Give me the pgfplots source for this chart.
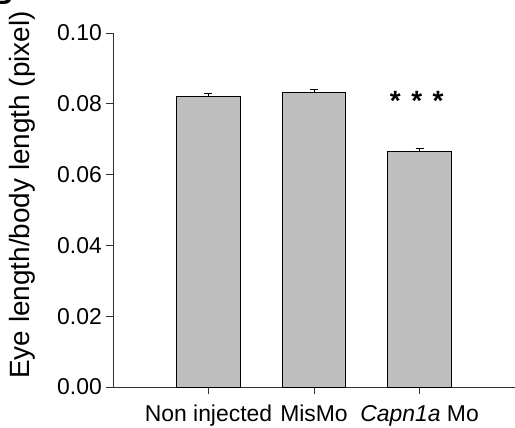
\documentclass[border=0pt]{standalone}
\usepackage{fontspec}
\setmainfont{Liberation Sans}
\usepackage{pgfplots}
\pgfplotsset{compat=1.18}
\definecolor{barg}{RGB}{190,190,190}
\definecolor{axg}{RGB}{50,50,50}
\begin{document}
\begin{tikzpicture}
\begin{axis}[
  at={(0,0)}, anchor=south west,
  scale only axis, width=402bp, height=354bp,
  xmin=-0.905, xmax=2.905, ymin=0, ymax=0.10,
  axis lines=left,
  axis line style={axg, line width=0.9bp, -},
  tick align=outside, major tick length=7bp,
  tick style={axg, line width=0.9bp},
  ytick={0,0.02,0.04,0.06,0.08,0.10},
  /pgf/number format/fixed, /pgf/number format/fixed zerofill,
  /pgf/number format/precision=2, /pgf/number format/assume math mode=true,
  yticklabel style={font=\fontsize{23}{23}\selectfont, inner sep=0pt, xshift=-4bp},
  xtick={0,1,2},
  xticklabels={Non injected, MisMo, \textit{Capn1a} Mo},
  xticklabel style={font=\fontsize{23}{23}\selectfont, inner sep=0pt, yshift=-11bp},
  clip=false,
]
\addplot[ybar, bar width=0.6, fill=barg, draw=black, line width=0.8bp,
  error bars/.cd, y dir=plus, y explicit,
  error bar style={black, line width=0.8bp},
  error mark options={rotate=90, black, mark size=4bp, line width=0.8bp}]
  coordinates {(0,0.0822) +- (0,0.0008) (1,0.0832) +- (0,0.0009) (2,0.0666) +- (0,0.0008)};
\node[font=\fontsize{28}{28}\selectfont\bfseries] at (axis cs:1.77,0.0808) {*};
\node[font=\fontsize{28}{28}\selectfont\bfseries] at (axis cs:1.975,0.0808) {*};
\node[font=\fontsize{28}{28}\selectfont\bfseries] at (axis cs:2.175,0.0808) {*};
\end{axis}
\node[rotate=90, font=\fontsize{28}{28}\selectfont] at (-91bp,192bp) {Eye length/body length (pixel)};
\node[font=\fontsize{30}{30}\selectfont\bfseries, anchor=south east, inner sep=0pt] at (-100bp,382bp) {B};
\pgfresetboundingbox
\path[use as bounding box] (-113bp,-41bp) rectangle (402bp,387bp);
\end{tikzpicture}
\end{document}
